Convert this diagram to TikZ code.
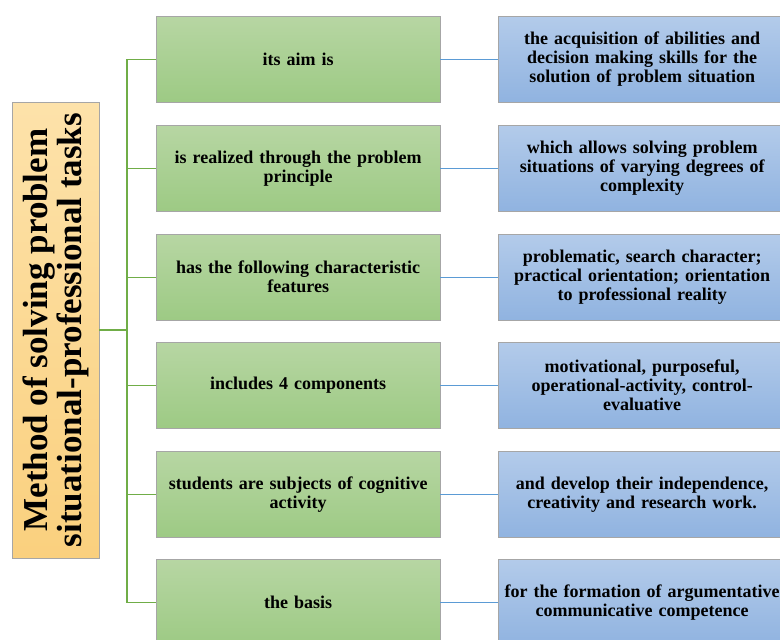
\documentclass[tikz,border=0pt]{standalone}
\usepackage{fontspec}
\setmainfont{Liberation Serif}
\begin{document}
\begin{tikzpicture}[x=1pt,y=-1pt,
  gbox/.style={draw=gray!70, minimum width=284pt, minimum height=86pt, anchor=north west, inner sep=2pt, align=center, text width=280pt, font=\bfseries\fontsize{18}{19}\selectfont, top color=greenTop, bottom color=greenBot},
  bbox/.style={draw=gray!70, minimum width=284pt, minimum height=86pt, anchor=north west, inner sep=2pt, align=center, text width=284pt, font=\bfseries\fontsize{18}{19}\selectfont, top color=blueTop, bottom color=blueBot},
  gline/.style={draw=lineGreen, line width=1.2pt},
  bline/.style={draw=lineBlue, line width=1.2pt}]
\definecolor{greenTop}{HTML}{B7D6A3}
\definecolor{greenBot}{HTML}{9DCA84}
\definecolor{blueTop}{HTML}{B3CBEA}
\definecolor{blueBot}{HTML}{90B3E0}
\definecolor{orangeTop}{HTML}{FDE2AA}
\definecolor{orangeBot}{HTML}{FAD07E}
\definecolor{lineGreen}{HTML}{70AD47}
\definecolor{lineBlue}{HTML}{5B9BD5}
\useasboundingbox (0,0) rectangle (780,640);
\clip (0,0) rectangle (780,640);
\node[draw=gray!70, top color=orangeTop, bottom color=orangeBot, minimum width=456pt, minimum height=87pt, rotate=90, align=center, font=\bfseries\fontsize{35}{34}\selectfont, inner sep=0pt] (m) at (55.5,330) {Method of solving problem\\situational-professional tasks};
\node[gbox] (g1) at (156,16) {its aim is};
\node[gbox] (g2) at (156,125) {is realized through the problem\\principle\\[8pt]};
\node[gbox] (g3) at (156,234) {has the following characteristic\\features\\[8pt]};
\node[gbox] (g4) at (156,342) {includes 4 components};
\node[gbox] (g5) at (156,451) {students are subjects of cognitive\\activity\\[8pt]};
\node[gbox] (g6) at (156,559) {the basis};
\node[bbox] (b1) at (498,16) {the acquisition of abilities and\\decision making skills for the\\solution of problem situation};
\node[bbox] (b2) at (498,125) {which allows solving problem\\situations of varying degrees of\\complexity};
\node[bbox] (b3) at (498,234) {problematic, search character;\\practical orientation; orientation\\to professional reality};
\node[bbox] (b4) at (498,342) {motivational, purposeful,\\operational-activity, control-\\evaluative};
\node[bbox] (b5) at (498,451) {and develop their independence,\\creativity and research work.\\[8pt]};
\node[bbox] (b6) at (498,559) {for the formation of argumentative\\communicative competence\\[8pt]};
\coordinate (trunk) at (127,330);
\draw[gline] (m.south) -- (trunk);
\draw[gline] (g1.west) -| (trunk) |- (g6.west);
\foreach \i in {2,3,4,5} {\draw[gline] (g\i.west) -- (trunk |- g\i.west);}
\foreach \i in {1,...,6} {\draw[bline] (g\i.east) -- (b\i.west);}
\end{tikzpicture}
\end{document}
